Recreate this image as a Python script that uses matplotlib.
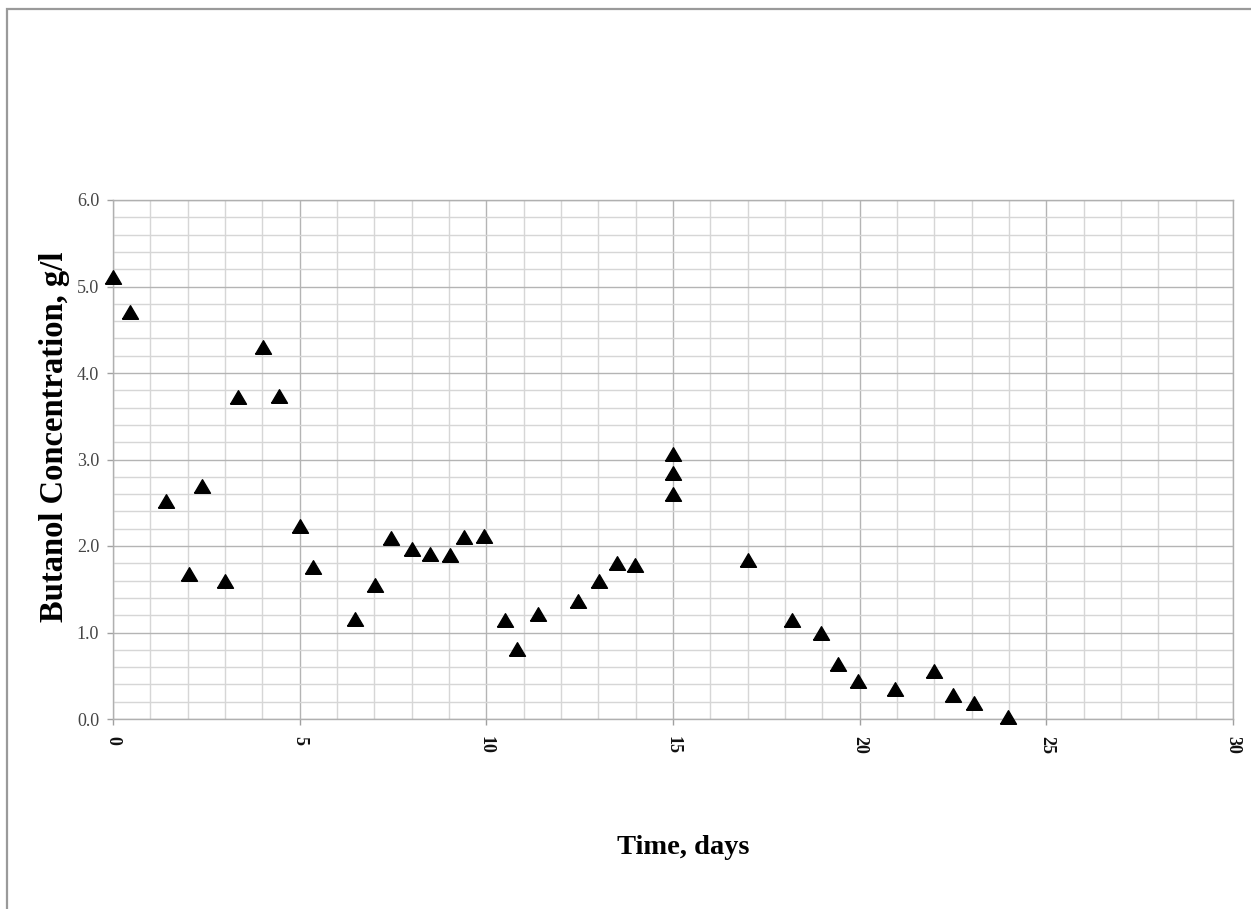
import numpy as np
import matplotlib
matplotlib.use("Agg")
import matplotlib.pyplot as plt
from matplotlib.patches import Rectangle
from matplotlib.ticker import MultipleLocator

# Butanol concentration over time (days, g/l)
days = [0.0, 0.46, 1.41, 2.04, 2.38, 3.0, 3.36, 4.03, 4.45, 5.01,
        5.35, 6.48, 7.02, 7.44, 8.0, 8.49, 9.03, 9.41, 9.94, 10.5,
        10.82, 11.39, 12.45, 13.02, 13.49, 13.98, 15.0, 15.0, 15.0, 17.0,
        18.18, 18.96, 19.43, 19.95, 20.95, 21.99, 22.51, 23.05, 23.97]
conc = [5.11, 4.70, 2.52, 1.68, 2.69, 1.60, 3.72, 4.30, 3.73, 2.23,
        1.76, 1.16, 1.55, 2.09, 1.97, 1.91, 1.90, 2.10, 2.11, 1.15,
        0.81, 1.21, 1.36, 1.60, 1.80, 1.78, 3.06, 2.84, 2.60, 1.84,
        1.14, 0.99, 0.64, 0.44, 0.35, 0.55, 0.28, 0.19, 0.02]

x_ticks = [0, 5, 10, 15, 20, 25, 30]
y_ticks = [0.0, 1.0, 2.0, 3.0, 4.0, 5.0, 6.0]

W, H = 1251, 909
fig = plt.figure(figsize=(W / 100, H / 100), dpi=100)
fig.patch.set_facecolor("white")

# grey frame on the top and left edges
fig.patches.append(Rectangle((7 / W, -0.2), 1.5, 1.2 - 9 / H, transform=fig.transFigure,
                             fill=False, edgecolor="#9a9a9a", linewidth=1.6))

ax = fig.add_axes([113 / W, 1 - 719 / H, (1233 - 113) / W, (719 - 200) / H])
ax.set_xlim(0, 30)
ax.set_ylim(0, 6)

ax.xaxis.set_major_locator(MultipleLocator(5))
ax.xaxis.set_minor_locator(MultipleLocator(1))
ax.yaxis.set_major_locator(MultipleLocator(1))
ax.yaxis.set_minor_locator(MultipleLocator(0.2))
ax.grid(which="major", color="#b4b4b4", linewidth=1.0)
ax.grid(which="minor", color="#d6d6d6", linewidth=1.0)
ax.set_axisbelow(True)

for s in ax.spines.values():
    s.set_color("#b0b0b0")
    s.set_linewidth(1.0)

ax.set_xticks(x_ticks)
ax.set_xticklabels([str(t) for t in x_ticks], rotation=-90, fontweight="bold",
                   fontfamily="Liberation Serif", fontsize=13, color="#111111")
ax.set_yticks(y_ticks)
ax.set_yticklabels([f"{t:.1f}" for t in y_ticks],
                   fontfamily="Liberation Serif", fontsize=13, color="#444444")
ax.tick_params(which="major", length=4, width=1, color="#a0a0a0", pad=6)
ax.tick_params(axis="x", pad=8)
ax.tick_params(which="minor", length=0)

tri = [(-1, -0.85), (1, -0.85), (0, 0.85), (-1, -0.85)]
ax.plot(days, conc, linestyle="none", marker=tri, markersize=11.5,
        color="black", clip_on=False, zorder=3)

fig.text(683 / W, 1 - 847 / H, "Time, days", ha="center", va="center",
         fontfamily="Liberation Serif", fontweight="bold", fontsize=20.5)
fig.text(55 / W, 1 - 437 / H, "Butanol Concentration, g/l", ha="center", va="center",
         rotation=90, fontfamily="Liberation Serif", fontweight="bold", fontsize=23.5)

fig.savefig("out.png", dpi=100)
